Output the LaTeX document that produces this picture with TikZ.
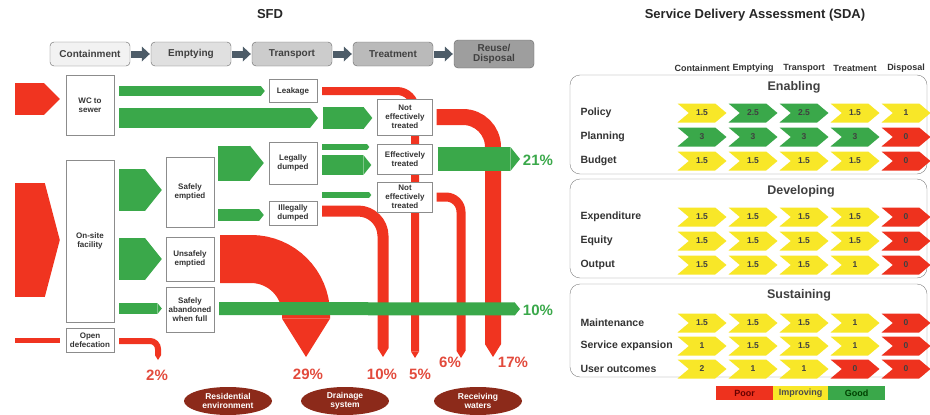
\documentclass[tikz,border=0pt]{standalone}
\usepackage{fontspec}
\setmainfont{Liberation Sans}
\usepackage{xcolor}
\usepackage{tikz}
\usetikzlibrary{arrows.meta,calc,backgrounds}
\usetikzlibrary{shapes.symbols,shapes.geometric}

\definecolor{flowgreen}{RGB}{58,168,74}
\definecolor{flowred}{RGB}{240,52,32}
\definecolor{pctred}{RGB}{226,74,60}
\definecolor{chY}{RGB}{248,231,40}
\definecolor{chG}{RGB}{58,168,74}
\definecolor{chR}{RGB}{238,50,30}
\definecolor{hdarrow}{RGB}{77,92,104}
\definecolor{sinkred}{RGB}{140,42,26}

\begin{document}
\begin{tikzpicture}[x=1pt, y=-1pt,
  sfdbox/.style={draw=black!45, fill=white, text=black!80, font=\fontsize{8}{8.8}\selectfont\bfseries, align=center, inner sep=1pt, minimum width=48pt},
  stagebox/.style={draw=black!60, rounded corners=4pt, minimum width=80pt, minimum height=24pt, text=black!75, font=\fontsize{10}{10.5}\selectfont\bfseries, align=center, inner sep=1pt},
  stagearrow/.style={draw=hdarrow, line width=7pt, -{Triangle[length=8pt, width=15pt, line width=0pt]}, shorten <=1pt, shorten >=1pt},
  gflow/.style={flowgreen, line width=#1, -{Triangle[length=0pt 0.4, width=0pt 1, line width=0pt]}},
  rflow/.style={flowred, line width=#1, -{Triangle[length=0pt 0.8, width=0pt 1, line width=0pt]}},
  pct/.style={text=pctred, font=\fontsize{15}{15}\selectfont\bfseries},
  pctg/.style={text=flowgreen, font=\fontsize{15}{15}\selectfont\bfseries},
  sink/.style={ellipse, fill=sinkred, text=white, minimum width=88pt, minimum height=28pt, inner sep=0pt, align=center, font=\fontsize{8.5}{9}\selectfont\bfseries},
  title/.style={text=black!85, font=\fontsize{13}{13}\selectfont\bfseries},
  panel/.style={draw=black!50, fill=white, rounded corners=10pt},
  paneltitle/.style={text=black!75, font=\fontsize{12.5}{12.5}\selectfont\bfseries},
  rowlab/.style={anchor=west, text=black!80, font=\fontsize{10.5}{11}\selectfont\bfseries},
  colhd/.style={text=black!80, font=\fontsize{9}{9}\selectfont\bfseries},
  chev/.style={signal, signal to=east, signal from=west, signal pointer angle=80, minimum width=49pt, minimum height=19pt, inner sep=0pt, text=black!75, font=\fontsize{8.5}{8.5}\selectfont\bfseries},
  legbox/.style={minimum height=14pt, inner sep=0pt, font=\fontsize{9}{9}\selectfont\bfseries}
]
\useasboundingbox (0,0) rectangle (930,415);

\node[title] (sfd) at (270,14) {SFD};
\node[title] (sda) at (755,15) {Service Delivery Assessment (SDA)};

% stages
\node[stagebox, fill=black!5] (cont) at (90,54) {Containment};
\node[stagebox, fill=black!12] (emp) at (191,54) {Emptying};
\node[stagebox, fill=black!20] (trans) at (292,54) {Transport};
\node[stagebox, fill=black!27] (treat) at (393,54) {Treatment};
\node[stagebox, fill=black!38, minimum height=28pt] (reuse) at (494,54) {Reuse/\\Disposal};
\draw[stagearrow] (cont) -- (emp);
\draw[stagearrow] (emp) -- (trans);
\draw[stagearrow] (trans) -- (treat);
\draw[stagearrow] (treat) -- (reuse);

% boxes
\node[sfdbox, minimum height=60pt] (wc) at (90,105) {WC to\\sewer};
\node[sfdbox, minimum height=162pt] (onsite) at (90,241) {On-site\\facility};
\node[sfdbox, minimum height=24pt] (opendef) at (90,340) {Open\\defecation};
\node[sfdbox, minimum height=70pt] (safeemp) at (190,192) {Safely\\emptied};
\node[sfdbox, minimum height=44pt] (unsafeemp) at (190,259) {Unsafely\\emptied};
\node[sfdbox, minimum height=45pt] (abandon) at (190,309.5) {Safely\\abandoned\\when full};
\node[sfdbox, minimum height=23pt] (leak) at (293,91) {Leakage};
\node[sfdbox, minimum height=42pt] (legal) at (293,163) {Legally\\dumped};
\node[sfdbox, minimum height=24pt] (illegal) at (293,213) {Illegally\\dumped};
\node[sfdbox, minimum width=55pt, minimum height=36pt] (net1) at (405,117) {Not\\effectively\\treated};
\node[sfdbox, minimum width=55pt, minimum height=30pt] (eff) at (405,159) {Effectively\\treated};
\node[sfdbox, minimum width=55pt, minimum height=30pt] (net2) at (405,197) {Not\\effectively\\treated};

\coordinate (in1) at (15,99);
\coordinate (in2) at (15,240);
\coordinate (in3) at (15,340);
\coordinate (p2) at (158,360);
\coordinate (p29) at (306,357);
\coordinate (p10) at (383,357);
\coordinate (p5) at (415,358);
\coordinate (p6) at (461,358);
\coordinate (p17) at (493,357);
\coordinate (bar1) at (318,118);
\coordinate (out21) at (520,159);
\coordinate (out10) at (520,309);

\begin{scope}[on background layer]
% red flows
\draw[flowred, line width=32pt, -{Triangle[length=16pt, width=0pt 1, line width=0pt]}] (in1) -- ($(wc.west)+(-6,-6)$);
\draw[flowred, line width=114pt, -{Triangle[length=15pt, width=0pt 1, line width=0pt]}] (in2) -- ($(onsite.west)+(-6,-1)$);
\draw[flowred, line width=5pt] (in3) -- ($(opendef.west)+(-6,0)$);
\draw[rflow=6pt, rounded corners=8pt] ($(opendef.east)+(5,1)$) -| (p2);
\draw[rflow=48pt, rounded corners=55pt] ($(unsafeemp.east)+(6,0)$) -| (p29);
\draw[rflow=11pt, rounded corners=25pt] ($(illegal.east)+(5,-2)$) -| (p10);
\draw[rflow=8pt, rounded corners=18pt] ($(leak.east)+(5,0)$) -| (p5);
\draw[rflow=9pt, rounded corners=15pt] ($(net2.east)+(4,0)$) -| (p6);
\draw[rflow=16pt, rounded corners=30pt] ($(net1.east)+(4,0)$) -| (p17);

% green flows
\draw[gflow=10pt] ($(wc.east |- leak.west)+(5,0)$) -- ($(leak.west)+(-4,0)$);
\draw[gflow=20pt] ($(wc.east)+(5,13)$) -- (bar1);
\draw[gflow=22pt] ($(bar1)+(5,0)$) -- ($(net1.west)+(-5,1)$);
\draw[gflow=42pt] ($(onsite.east |- safeemp.west)+(5,-2)$) -- ($(safeemp.west)+(-4,-2)$);
\draw[gflow=42pt] ($(onsite.east |- unsafeemp.west)+(5,0)$) -- ($(unsafeemp.west)+(-4,0)$);
\draw[gflow=11pt] ($(onsite.east |- abandon.west)+(5,-1)$) -- ($(abandon.west)+(-4,-1)$);
\draw[gflow=35pt] ($(safeemp.east |- legal.west)+(4,0)$) -- ($(legal.west)+(-5,0)$);
\draw[gflow=12pt] ($(safeemp.east |- illegal.west)+(4,2)$) -- ($(illegal.west)+(-5,2)$);
\draw[gflow=6pt] ($(legal.east)+(5,-16)$) -- ($(eff.west)+(-8,-12)$);
\draw[gflow=20pt] ($(legal.east)+(5,2)$) -- ($(eff.west)+(-6,6)$);
\draw[gflow=6pt] ($(legal.east)+(5,32)$) -- ($(net2.west)+(-6,-2)$);
\draw[gflow=24pt] ($(eff.east)+(5,0)$) -- (out21);
\draw[gflow=13pt] ($(abandon.east)+(5,-1)$) -- (out10);
\end{scope}

\node[pct] (l2) at (157,375) {2\%};
\node[pct] (l29) at (308,374) {29\%};
\node[pct] (l10) at (382,374) {10\%};
\node[pct] (l5) at (420,374) {5\%};
\node[pct] (l6) at (450,362) {6\%};
\node[pct] (l17) at (513,362) {17\%};
\node[pctg] (l21) at (538,160) {21\%};
\node[pctg] (l10g) at (538,310) {10\%};

\node[sink] (resid) at (228,401) {Residential\\environment};
\node[sink] (drain) at (345,401) {Drainage\\system};
\node[sink] (recv) at (478,401) {Receiving\\waters};

% SDA
\draw[panel] (570,75) rectangle (927,174);
\draw[panel] (570,179) rectangle (927,278);
\draw[panel] (570,284) rectangle (927,377);
\node[paneltitle] (enab) at (794,87) {Enabling};
\node[paneltitle] (devel) at (801,191) {Developing};
\node[paneltitle] (sust) at (799,295) {Sustaining};

\foreach \t [count=\i] in {Containment,Emptying,Transport,Treatment,Disposal}
  \node[colhd] (hd\i) at (651+51*\i,68) {\t};

\foreach \y/\lab/\vals [count=\r] in {
  113/Policy/{1.5/Y,2.5/G,2.5/G,1.5/Y,1/Y},
  137/Planning/{3/G,3/G,3/G,3/G,0/R},
  161/Budget/{1.5/Y,1.5/Y,1.5/Y,1.5/Y,0/R},
  217/Expenditure/{1.5/Y,1.5/Y,1.5/Y,1.5/Y,0/R},
  241/Equity/{1.5/Y,1.5/Y,1.5/Y,1.5/Y,0/R},
  265/Output/{1.5/Y,1.5/Y,1.5/Y,1/Y,0/R},
  323/Maintenance/{1.5/Y,1.5/Y,1.5/Y,1/Y,0/R},
  346/Service expansion/{1/Y,1.5/Y,1.5/Y,1/Y,0/R},
  369/User outcomes/{2/Y,1/Y,1/Y,0/R,0/R}}
{
  \node[rowlab] (row\r) at (577,\y) {\lab};
  \foreach \v/\c [count=\i] in \vals
    \node[chev, fill=ch\c] (c\r-\i) at (651+51*\i,\y) {\v};
}

\node[legbox, fill=chR, minimum width=57pt, text=red!40!black] (poor) at (744.5,393) {Poor};
\node[legbox, fill=chY, minimum width=55pt, text=black!70] (impr) at (800.5,393) {Improving};
\node[legbox, fill=chG, minimum width=57pt, text=green!25!black] (good) at (856.5,393) {Good};

\end{tikzpicture}
\end{document}
